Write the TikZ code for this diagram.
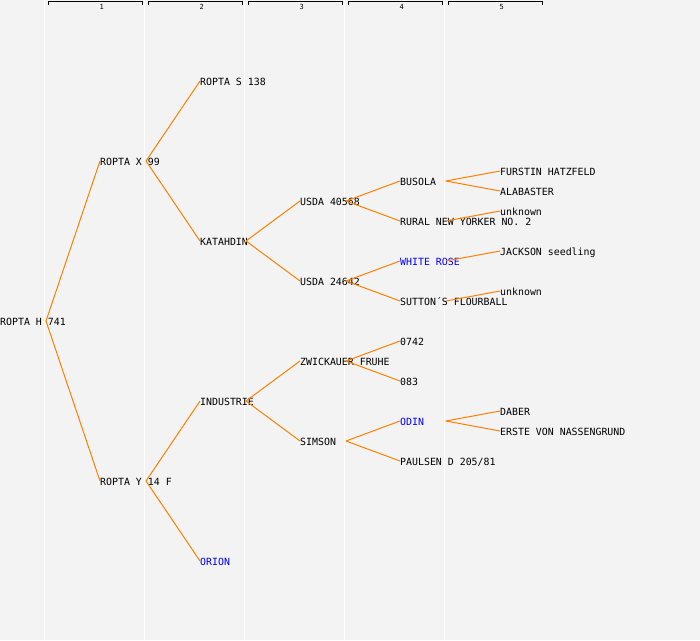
\documentclass[tikz,border=0pt]{standalone}
\usepackage{fontspec}
\setmonofont{DejaVu Sans Mono}
\definecolor{pagegrey}{HTML}{F3F3F3}
\definecolor{lineorange}{RGB}{255,128,0}
\definecolor{markblue}{RGB}{0,0,255}
\tikzset{
    cultivar/.style={anchor=west, inner sep=0pt, text height=9.2pt, text depth=0pt,
        font=\ttfamily\fontsize{9.9}{10}\selectfont},
    markedcultivar/.style={cultivar, text=markblue},
    gennum/.style={inner sep=0pt, text height=5.1pt, text depth=0pt,
        font=\ttfamily\fontsize{7}{7}\selectfont},
    parentline/.style={lineorange, line width=1pt},
    genline/.style={white, line width=1.2pt},
    genbracket/.style={black, line width=1pt}
}
\begin{document}
\begin{tikzpicture}[x=1pt, y=-1pt]
    \fill[pagegrey] (0,0) rectangle (700,640);
    \useasboundingbox (0,0) rectangle (700,640);

    \draw[genline] (44.5,0) -- (44.5,640);
    \draw[genline] (144.5,0) -- (144.5,640);
    \draw[genline] (244.5,0) -- (244.5,640);
    \draw[genline] (344.5,0) -- (344.5,640);
    \draw[genline] (444.5,0) -- (444.5,640);

    \draw[genbracket] (48.5,4.5) -- (48.5,1.5) -- (142.5,1.5) -- (142.5,4.5);
    \draw[genbracket] (148.5,4.5) -- (148.5,1.5) -- (242.5,1.5) -- (242.5,4.5);
    \draw[genbracket] (248.5,4.5) -- (248.5,1.5) -- (342.5,1.5) -- (342.5,4.5);
    \draw[genbracket] (348.5,4.5) -- (348.5,1.5) -- (442.5,1.5) -- (442.5,4.5);
    \draw[genbracket] (448.5,4.5) -- (448.5,1.5) -- (542.5,1.5) -- (542.5,4.5);
    \node[gennum] (gen1) at (101.7,6.5) {1};
    \node[gennum] (gen2) at (201.7,6.5) {2};
    \node[gennum] (gen3) at (301.7,6.5) {3};
    \node[gennum] (gen4) at (401.7,6.5) {4};
    \node[gennum] (gen5) at (501.7,6.5) {5};

    \node[cultivar] (roptaH) at (0,321) {ROPTA H 741};

    \node[cultivar] (roptaX) at (100,161) {ROPTA X 99};
    \node[cultivar] (roptaY) at (100,481) {ROPTA Y 14 F};

    \node[cultivar] (roptaS) at (200,81) {ROPTA S 138};
    \node[cultivar] (katahdin) at (200,241) {KATAHDIN};
    \node[cultivar] (industrie) at (200,401) {INDUSTRIE};
    \node[markedcultivar] (orion) at (200,561) {ORION};

    \node[cultivar] (usdaA) at (300,201) {USDA 40568};
    \node[cultivar] (usdaB) at (300,281) {USDA 24642};
    \node[cultivar] (zwickauer) at (300,361) {ZWICKAUER FRUHE};
    \node[cultivar] (simson) at (300,441) {SIMSON};

    \node[cultivar] (busola) at (400,181) {BUSOLA};
    \node[cultivar] (rural) at (400,221) {RURAL NEW YORKER NO. 2};
    \node[markedcultivar] (whiterose) at (400,261) {WHITE ROSE};
    \node[cultivar] (sutton) at (400,301) {SUTTON´S FLOURBALL};
    \node[cultivar] (nr0742) at (400,341) {0742};
    \node[cultivar] (nr083) at (400,381) {083};
    \node[markedcultivar] (odin) at (400,421) {ODIN};
    \node[cultivar] (paulsen) at (400,461) {PAULSEN D 205/81};

    \node[cultivar] (furstin) at (500,171) {FURSTIN HATZFELD};
    \node[cultivar] (alabaster) at (500,191) {ALABASTER};
    \node[cultivar] (unknownA) at (500,211) {unknown};
    \node[cultivar] (jackson) at (500,251) {JACKSON seedling};
    \node[cultivar] (unknownB) at (500,291) {unknown};
    \node[cultivar] (daber) at (500,411) {DABER};
    \node[cultivar] (erste) at (500,431) {ERSTE VON NASSENGRUND};

    \draw[parentline] ([xshift=46pt]roptaH.west) -- (roptaX.west);
    \draw[parentline] ([xshift=46pt]roptaH.west) -- (roptaY.west);
    \draw[parentline] ([xshift=46pt]roptaX.west) -- (roptaS.west);
    \draw[parentline] ([xshift=46pt]roptaX.west) -- (katahdin.west);
    \draw[parentline] ([xshift=46pt]roptaY.west) -- (industrie.west);
    \draw[parentline] ([xshift=46pt]roptaY.west) -- (orion.west);
    \draw[parentline] ([xshift=46pt]katahdin.west) -- (usdaA.west);
    \draw[parentline] ([xshift=46pt]katahdin.west) -- (usdaB.west);
    \draw[parentline] ([xshift=46pt]industrie.west) -- (zwickauer.west);
    \draw[parentline] ([xshift=46pt]industrie.west) -- (simson.west);
    \draw[parentline] ([xshift=46pt]usdaA.west) -- (busola.west);
    \draw[parentline] ([xshift=46pt]usdaA.west) -- (rural.west);
    \draw[parentline] ([xshift=46pt]usdaB.west) -- (whiterose.west);
    \draw[parentline] ([xshift=46pt]usdaB.west) -- (sutton.west);
    \draw[parentline] ([xshift=46pt]zwickauer.west) -- (nr0742.west);
    \draw[parentline] ([xshift=46pt]zwickauer.west) -- (nr083.west);
    \draw[parentline] ([xshift=46pt]simson.west) -- (odin.west);
    \draw[parentline] ([xshift=46pt]simson.west) -- (paulsen.west);
    \draw[parentline] ([xshift=46pt]busola.west) -- (furstin.west);
    \draw[parentline] ([xshift=46pt]busola.west) -- (alabaster.west);
    \draw[parentline] ([xshift=46pt]rural.west) -- (unknownA.west);
    \draw[parentline] ([xshift=46pt]whiterose.west) -- (jackson.west);
    \draw[parentline] ([xshift=46pt]sutton.west) -- (unknownB.west);
    \draw[parentline] ([xshift=46pt]odin.west) -- (daber.west);
    \draw[parentline] ([xshift=46pt]odin.west) -- (erste.west);
\end{tikzpicture}
\end{document}
